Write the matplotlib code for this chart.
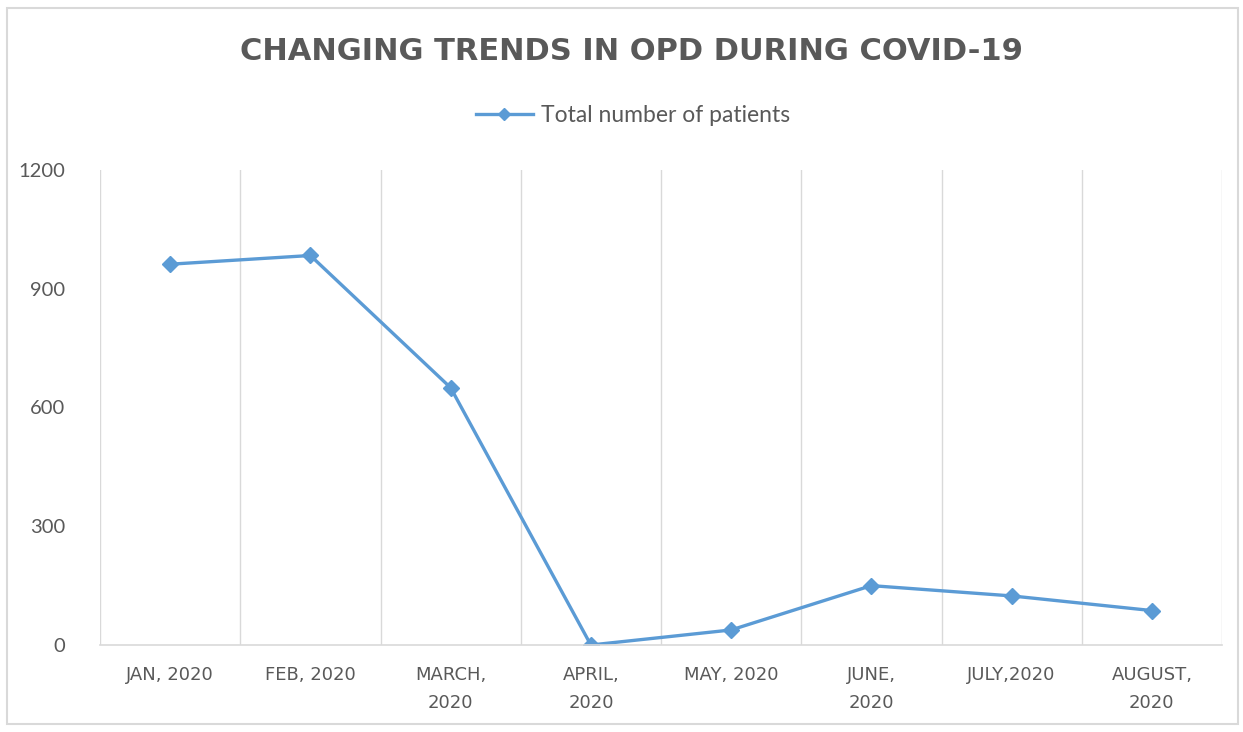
import matplotlib
matplotlib.use("Agg")
import matplotlib.pyplot as plt
from matplotlib.patches import Rectangle

categories = ["JAN, 2020", "FEB, 2020", "MARCH,\n2020", "APRIL,\n2020",
              "MAY, 2020", "JUNE,\n2020", "JULY,2020", "AUGUST,\n2020"]
patients = [962, 984, 650, 0, 38, 150, 124, 87]
yticks = [0, 300, 600, 900, 1200]

line_color = "#5B9BD5"
text_color = "#595959"
grid_color = "#D9D9D9"

plt.rcParams['font.family'] = ['Lato', 'DejaVu Sans']

fig = plt.figure(figsize=(12.43, 7.32), dpi=100)
fig.patch.set_facecolor("white")
fig.patches.append(Rectangle((7/1243, 1 - 724/732), (1238-7)/1243, (724-8)/732,
                             transform=fig.transFigure, fill=False,
                             edgecolor="#D9D9D9", linewidth=1.5))

ax = fig.add_axes([100/1243, 1 - 645/732, (1222-100)/1243, (645-170)/732])
x = list(range(len(categories)))
ax.plot(x, patients, color=line_color, linewidth=2.4, marker="D",
        markersize=8, markerfacecolor=line_color, markeredgecolor=line_color,
        label="Total number of patients")

ax.set_xlim(-0.5, len(categories) - 0.5)
ax.set_ylim(0, 1200)
ax.set_yticks(yticks)
ax.set_yticklabels([str(v) for v in yticks], color=text_color, fontsize=14.5)

ax.set_xticks(x)
ax.set_xticklabels(categories, color=text_color, fontsize=13,
                   family=['DejaVu Sans'], linespacing=1.7)
ax.tick_params(axis="both", length=0)
ax.tick_params(axis="x", pad=15)
ax.tick_params(axis="y", pad=25)

# vertical gridlines at category boundaries
for b in [i - 0.5 for i in range(len(categories) + 1)]:
    ax.axvline(b, color=grid_color, linewidth=1, zorder=0)

for s in ["top", "right", "left"]:
    ax.spines[s].set_visible(False)
ax.spines["bottom"].set_color(grid_color)
ax.spines["bottom"].set_linewidth(1.2)

fig.text(631/1243, 1 - 52/732, "CHANGING TRENDS IN OPD DURING COVID-19",
         ha="center", va="center", fontsize=22, fontweight="bold",
         color=text_color, family=['DejaVu Sans'])

leg = fig.legend(loc="center", bbox_to_anchor=(633/1243, 1 - 116/732),
                 frameon=False, fontsize=16.5, handlelength=2.5,
                 handletextpad=0.35, labelcolor=text_color)
for h in leg.legend_handles:
    h.set_markersize(6)

fig.savefig("out.png", dpi=100, facecolor="white")
